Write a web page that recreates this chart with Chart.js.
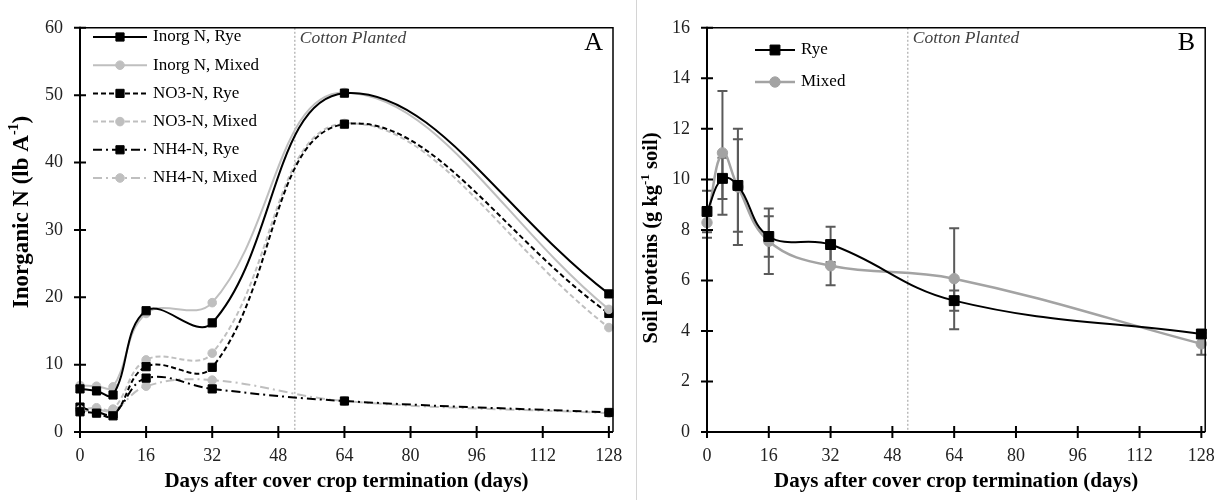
<!DOCTYPE html>
<html>
<head>
<meta charset="utf-8">
<script src="https://cdn.jsdelivr.net/npm/chart.js@4.4.1/dist/chart.umd.min.js"></script>
<style>
  body { margin: 0; background: #fff; width: 1228px; height: 500px; overflow: hidden; position: relative; }
  #left { position: absolute; left: 0; top: 0; width: 636px; height: 500px; }
  #right { position: absolute; left: 637px; top: 0; width: 591px; height: 500px; }
  #divider { position: absolute; left: 636px; top: 0; width: 1px; height: 500px; background: #d4d4d4; }
</style>
</head>
<body>
<div id="left"><canvas id="chartA"></canvas></div>
<div id="divider"></div>
<div id="right"><canvas id="chartB"></canvas></div>
<script>
// ---- data ----
const days = [0, 4, 8, 16, 32, 64, 128];
const xTicks = [0, 16, 32, 48, 64, 80, 96, 112, 128];
const yTicksA = [0, 10, 20, 30, 40, 50, 60];
const yTicksB = [0, 2, 4, 6, 8, 10, 12, 14, 16];
const cottonPlanted = 52;

// panel A: inorganic N (lb/A)
const inorgRye   = [6.4, 6.1, 5.5, 18.0, 16.2, 50.3, 20.5];
const inorgMixed = [6.9, 6.8, 6.7, 17.6, 19.2, 50.4, 18.2];
const no3Rye     = [3.0, 2.8, 2.4, 9.7, 9.6, 45.7, 17.6];
const no3Mixed   = [3.3, 3.6, 3.4, 10.7, 11.7, 45.8, 15.5];
const nh4Rye     = [3.7, 3.0, 2.7, 8.0, 6.4, 4.6, 2.9];
const nh4Mixed   = [3.0, 3.3, 3.2, 6.8, 7.7, 4.6, 2.8];

// panel B: soil proteins (g/kg soil) with error bars
const proteinRye      = [8.73, 10.04, 9.76, 7.74, 7.42, 5.2, 3.88];
const proteinRyeErr   = [0.82, 0.82, 1.83, 0.8, 0.7, 0.4, 0.15];
const proteinMixed    = [8.29, 11.05, 9.7, 7.55, 6.58, 6.07, 3.49];
const proteinMixedErr = [0.6, 2.45, 2.3, 1.3, 0.77, 2.0, 0.43];

const SERIF = '"Liberation Serif", "Times New Roman", serif';
const GRAY = '#bfbfbf';
const GRAY_B = '#a3a3a3';

function pts(arr) {
    return days.map((d, i) => ({ x: d, y: arr[i] }));
}

function serie(label, arr, color, dash, style, r, extra) {
    return Object.assign({
        label: label,
        data: pts(arr),
        borderColor: color,
        borderWidth: 2,
        borderDash: dash,
        pointStyle: style,
        pointRadius: r,
        pointHoverRadius: r,
        pointBackgroundColor: color,
        pointBorderColor: color,
        pointBorderWidth: 1,
        tension: 0.4,
        clip: false
    }, extra || {});
}

// draws frame, crossing ticks, planting line, labels, titles and legend
const panelPlugin = {
    id: 'panel',
    beforeDatasetsDraw(chart, args, o) {
        const ctx = chart.ctx, xs = chart.scales.x, ys = chart.scales.y, a = chart.chartArea;
        // planting date line
        const px = xs.getPixelForValue(cottonPlanted);
        ctx.save();
        ctx.strokeStyle = '#9a9a9a';
        ctx.lineWidth = 1;
        ctx.setLineDash([2, 2]);
        ctx.beginPath();
        ctx.moveTo(px, a.top);
        ctx.lineTo(px, a.bottom);
        ctx.stroke();
        ctx.restore();

        // error bars
        chart.data.datasets.forEach(ds => {
            if (!ds.errors) return;
            ctx.save();
            ctx.strokeStyle = '#5a5a5a';
            ctx.lineWidth = 2;
            ds.data.forEach((p, i) => {
                const e = ds.errors[i];
                const x = xs.getPixelForValue(p.x);
                const t = ys.getPixelForValue(p.y + e);
                const b = ys.getPixelForValue(p.y - e);
                ctx.beginPath();
                ctx.moveTo(x, t); ctx.lineTo(x, b);
                ctx.moveTo(x - 5, t); ctx.lineTo(x + 5, t);
                ctx.moveTo(x - 5, b); ctx.lineTo(x + 5, b);
                ctx.stroke();
            });
            ctx.restore();
        });
    },
    afterDraw(chart, args, o) {
        const ctx = chart.ctx, xs = chart.scales.x, ys = chart.scales.y, a = chart.chartArea;
        ctx.save();
        // frame
        ctx.strokeStyle = '#000';
        ctx.lineWidth = 1.5;
        ctx.beginPath();
        ctx.moveTo(a.left, a.top);
        ctx.lineTo(a.right, a.top);
        ctx.lineTo(a.right, a.bottom);
        ctx.stroke();
        ctx.lineWidth = 2;
        ctx.beginPath();
        ctx.moveTo(a.left, a.top - 1);
        ctx.lineTo(a.left, a.bottom);
        ctx.lineTo(a.right, a.bottom);
        ctx.stroke();
        // crossing tick marks
        ctx.beginPath();
        xTicks.forEach(v => {
            const x = xs.getPixelForValue(v);
            ctx.moveTo(x, a.bottom - 6);
            ctx.lineTo(x, a.bottom + 6);
        });
        o.yTicks.forEach(v => {
            const y = ys.getPixelForValue(v);
            ctx.moveTo(a.left - 6, y);
            ctx.lineTo(a.left + 6, y);
        });
        ctx.stroke();

        // cotton planted label
        const px = xs.getPixelForValue(cottonPlanted);
        ctx.fillStyle = '#404040';
        ctx.font = 'italic 17.5px ' + SERIF;
        ctx.textBaseline = 'middle';
        ctx.textAlign = 'left';
        ctx.fillText('Cotton Planted', px + 5, 38);

        // panel letter
        ctx.fillStyle = '#000';
        ctx.font = '26px ' + SERIF;
        ctx.textAlign = 'right';
        ctx.fillText(o.letter, a.right - 10, 43);

        // x title
        ctx.font = 'bold 21px ' + SERIF;
        ctx.textAlign = 'center';
        ctx.fillText('Days after cover crop termination (days)', (a.left + a.right) / 2, 482);

        // y title with superscript
        const parts = o.yTitle;
        const big = 'bold ' + o.yTitleSize + 'px ' + SERIF;
        const small = 'bold ' + Math.round(o.yTitleSize * 0.62) + 'px ' + SERIF;
        ctx.translate(o.yTitleX, o.yTitleY);
        ctx.rotate(-Math.PI / 2);
        let total = 0;
        parts.forEach(p => {
            ctx.font = p.sup ? small : big;
            p.w = ctx.measureText(p.t).width;
            total += p.w;
        });
        let x = -total / 2;
        ctx.textAlign = 'left';
        parts.forEach(p => {
            ctx.font = p.sup ? small : big;
            ctx.fillText(p.t, x, p.sup ? -o.yTitleSize * 0.33 : 0);
            x += p.w;
        });
        ctx.restore();

        // legend: line with marker in the middle
        const L = o.legend;
        ctx.save();
        chart.data.datasets.forEach((ds, i) => {
            const y = L.y + i * L.gap;
            ctx.strokeStyle = ds.borderColor;
            ctx.lineWidth = ds.borderWidth;
            ctx.setLineDash(ds.borderDash || []);
            ctx.beginPath();
            ctx.moveTo(L.x, y);
            ctx.lineTo(L.x + L.len, y);
            ctx.stroke();
            ctx.setLineDash([]);
            ctx.fillStyle = ds.pointBackgroundColor;
            ctx.strokeStyle = ds.pointBorderColor;
            ctx.lineWidth = 1;
            Chart.helpers.drawPoint(ctx, { pointStyle: ds.pointStyle, radius: ds.pointRadius, borderWidth: 1, rotation: 0 },
                L.x + L.len / 2, y);
            ctx.fillStyle = '#000';
            ctx.font = '17px ' + SERIF;
            ctx.textBaseline = 'middle';
            ctx.textAlign = 'left';
            ctx.fillText(ds.label, L.x + L.len + 6, y);
        });
        ctx.restore();
    }
};

function scalesFor(yTicks, yMax, yWidth) {
    return {
        x: {
            type: 'linear',
            min: 0,
            max: 129,
            afterBuildTicks: s => { s.ticks = xTicks.map(v => ({ value: v })); },
            afterFit: s => { s.height = 68; },
            grid: { display: false, drawTicks: false },
            border: { display: false },
            ticks: { font: { family: SERIF, size: 18 }, color: '#222', padding: 13, maxRotation: 0, autoSkip: false }
        },
        y: {
            min: 0,
            max: yMax,
            afterBuildTicks: s => { s.ticks = yTicks.map(v => ({ value: v })); },
            afterFit: s => { s.width = yWidth; },
            grid: { display: false, drawTicks: false },
            border: { display: false },
            ticks: { font: { family: SERIF, size: 18 }, color: '#222', padding: 17 }
        }
    };
}

new Chart(document.getElementById('chartA'), {
    type: 'line',
    data: {
        datasets: [
            serie('Inorg N, Rye', inorgRye, '#000', [], 'rect', 5.8),
            serie('Inorg N, Mixed', inorgMixed, GRAY, [], 'circle', 4.3),
            serie('NO3-N, Rye', no3Rye, '#000', [5, 3], 'rect', 5.8),
            serie('NO3-N, Mixed', no3Mixed, GRAY, [5, 3], 'circle', 4.3),
            serie('NH4-N, Rye', nh4Rye, '#000', [9, 4, 2, 4], 'rect', 5.8),
            serie('NH4-N, Mixed', nh4Mixed, GRAY, [9, 4, 2, 4], 'circle', 4.3)
        ]
    },
    options: {
        responsive: true,
        maintainAspectRatio: false,
        animation: false,
        layout: { padding: { left: 0, top: 18, right: 23, bottom: 0 } },
        scales: scalesFor(yTicksA, 60, 80),
        plugins: {
            legend: { display: false },
            tooltip: { enabled: false },
            panel: {
                letter: 'A',
                yTicks: yTicksA,
                yTitle: [{ t: 'Inorganic N (lb A' }, { t: '-1', sup: true }, { t: ')' }],
                yTitleSize: 23,
                yTitleX: 22,
                yTitleY: 212,
                legend: { x: 93, y: 37, gap: 28.2, len: 54 }
            }
        }
    },
    plugins: [panelPlugin]
});

new Chart(document.getElementById('chartB'), {
    type: 'line',
    data: {
        datasets: [
            serie('Rye', proteinRye, '#000', [], 'rect', 7, { errors: proteinRyeErr }),
            serie('Mixed', proteinMixed, GRAY_B, [], 'circle', 5.2, { errors: proteinMixedErr, borderWidth: 2.5 })
        ]
    },
    options: {
        responsive: true,
        maintainAspectRatio: false,
        animation: false,
        layout: { padding: { left: 0, top: 18, right: 20, bottom: 0 } },
        scales: scalesFor(yTicksB, 16, 70),
        plugins: {
            legend: { display: false },
            tooltip: { enabled: false },
            panel: {
                letter: 'B',
                yTicks: yTicksB,
                yTitle: [{ t: 'Soil proteins (g kg' }, { t: '-1', sup: true }, { t: ' soil)' }],
                yTitleSize: 20.5,
                yTitleX: 15,
                yTitleY: 238,
                legend: { x: 118, y: 50, gap: 32, len: 40 }
            }
        }
    },
    plugins: [panelPlugin]
});
</script>
</body>
</html>
